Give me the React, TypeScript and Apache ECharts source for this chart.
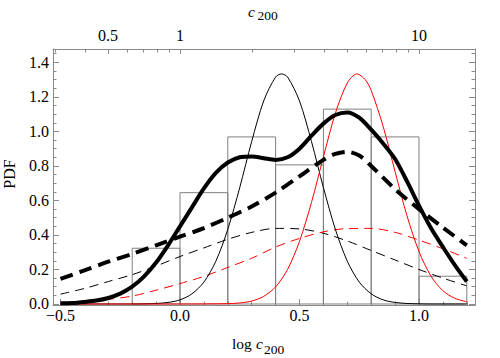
import React, { useEffect, useRef } from "react";
import * as echarts from "echarts";

// Histogram (bin edges and normalized heights)
const binStarts = [-0.2, 0.0, 0.2, 0.4, 0.6, 0.8, 1.0];
const binEnds = [0.0, 0.2, 0.4, 0.6, 0.8, 1.0, 1.2];
const binHeights = [0.323, 0.645, 0.968, 0.806, 1.129, 0.968, 0.161];

// Thin black solid
const aX = [-0.5, -0.2, -0.15, -0.1, -0.05, 0.0, 0.05, 0.1, 0.15, 0.2, 0.25, 0.3, 0.35, 0.4, 0.425, 0.45, 0.5, 0.55, 0.6, 0.65, 0.7, 0.75, 0.8, 0.85, 0.9, 0.95, 1.0, 1.05, 1.2];
const aY = [0, 0, 0.001, 0.003, 0.009, 0.024, 0.059, 0.127, 0.248, 0.433, 0.675, 0.942, 1.176, 1.315, 1.333, 1.315, 1.176, 0.942, 0.675, 0.433, 0.248, 0.127, 0.059, 0.024, 0.009, 0.003, 0.001, 0, 0];

// Thin red solid
const bX = [-0.5, 0.0, 0.2, 0.25, 0.3, 0.35, 0.4, 0.45, 0.5, 0.55, 0.6, 0.65, 0.7, 0.74, 0.775, 0.8, 0.85, 0.9, 0.95, 1.0, 1.05, 1.1, 1.15, 1.2];
const bY = [0, 0, 0.002, 0.006, 0.017, 0.044, 0.099, 0.2, 0.363, 0.588, 0.852, 1.105, 1.28, 1.333, 1.3, 1.237, 1.029, 0.766, 0.51, 0.304, 0.162, 0.077, 0.033, 0.013];

// Thick black solid
const cX = [-0.5, -0.45, -0.4, -0.35, -0.3, -0.25, -0.2, -0.15, -0.1, -0.05, 0.0, 0.05, 0.1, 0.15, 0.2, 0.25, 0.3, 0.35, 0.4, 0.45, 0.5, 0.55, 0.6, 0.65, 0.7, 0.75, 0.8, 0.85, 0.9, 0.95, 1.0, 1.05, 1.1, 1.15, 1.2];
const cY = [0.004, 0.006, 0.012, 0.02, 0.035, 0.06, 0.1, 0.16, 0.24, 0.34, 0.45, 0.56, 0.67, 0.76, 0.82, 0.85, 0.855, 0.845, 0.835, 0.85, 0.9, 0.975, 1.045, 1.095, 1.11, 1.08, 1.01, 0.93, 0.84, 0.71, 0.57, 0.44, 0.33, 0.225, 0.13];

// Thick black dashed
const dX = [-0.5, -0.4, -0.3, -0.2, -0.1, 0.0, 0.1, 0.2, 0.3, 0.4, 0.5, 0.6, 0.65, 0.7, 0.75, 0.8, 0.9, 1.0, 1.1, 1.2];
const dY = [0.145, 0.195, 0.245, 0.29, 0.34, 0.39, 0.44, 0.5, 0.565, 0.645, 0.74, 0.835, 0.87, 0.882, 0.86, 0.8, 0.665, 0.55, 0.443, 0.34];

// Thin black dashed
const eX = [-0.5, -0.4, -0.3, -0.2, -0.1, 0.0, 0.1, 0.2, 0.3, 0.4, 0.5, 0.6, 0.7, 0.8, 0.9, 1.0, 1.1, 1.2];
const eY = [0.057, 0.09, 0.13, 0.17, 0.22, 0.275, 0.325, 0.375, 0.415, 0.438, 0.435, 0.41, 0.365, 0.31, 0.255, 0.2, 0.15, 0.105];

// Thin red dashed
const fX = [-0.5, -0.4, -0.3, -0.2, -0.1, 0.0, 0.1, 0.2, 0.3, 0.4, 0.5, 0.6, 0.7, 0.8, 0.9, 1.0, 1.1, 1.2];
const fY = [0.008, 0.015, 0.027, 0.046, 0.08, 0.118, 0.16, 0.212, 0.265, 0.33, 0.38, 0.418, 0.437, 0.438, 0.415, 0.37, 0.32, 0.265];

// Ticks and tick labels
const xMajor = [-0.5, 0.0, 0.5, 1.0];
const xMajorLabels = ["\u22120.5", "0.0", "0.5", "1.0"];
const xMinor = [-0.4, -0.3, -0.2, -0.1, 0.1, 0.2, 0.3, 0.4, 0.6, 0.7, 0.8, 0.9, 1.1, 1.2];
const yMajor = [0.0, 0.2, 0.4, 0.6, 0.8, 1.0, 1.2, 1.4];
const yMajorLabels = ["0.0", "0.2", "0.4", "0.6", "0.8", "1.0", "1.2", "1.4"];
const yMinor = [0.05, 0.1, 0.15, 0.25, 0.3, 0.35, 0.45, 0.5, 0.55, 0.65, 0.7, 0.75, 0.85, 0.9, 0.95, 1.05, 1.1, 1.15, 1.25, 1.3, 1.35, 1.45];
const cMajor = [0.5, 1, 10];
const cMajorLabels = ["0.5", "1", "10"];
const cMinor = [0.3, 0.4, 0.6, 0.7, 0.8, 0.9, 2, 3, 4, 5, 6, 7, 8, 9];

const FAMILY = "Liberation Serif";
const FRAME = "#8a8a8a";
const X_MIN = -0.5314;
const X_MAX = 1.2343;
const Y_MIN = -0.0058;
const Y_MAX = 1.4774;

const pairs = (xs: number[], ys: number[]) => xs.map((x, i) => [x, ys[i]]);

export default function App() {
  const ref = useRef<HTMLDivElement>(null);
  useEffect(() => {
    if (!ref.current) return;
    const chart = echarts.init(ref.current, null, { renderer: "svg" });
    const baseX = (extra: any) => ({
      type: "value",
      min: X_MIN,
      max: X_MAX,
      splitLine: { show: false },
      axisLabel: { show: false },
      ...extra,
    });
    const baseY = (extra: any) => ({
      type: "value",
      min: Y_MIN,
      max: Y_MAX,
      splitLine: { show: false },
      axisLabel: { show: false },
      ...extra,
    });
    const line = (data: number[][], color: string, width: number, dash?: number[]) => ({
      type: "line",
      data,
      xAxisIndex: 0,
      yAxisIndex: 0,
      smooth: 0.3,
      symbol: "none",
      showSymbol: false,
      silent: true,
      lineStyle: { color, width, type: dash ? dash : "solid", cap: "butt" },
    });
    const frameLine = { show: true, onZero: false, lineStyle: { color: FRAME, width: 1 } };
    const tick = (vals: number[], length: number) => ({
      show: true,
      inside: true,
      length,
      customValues: vals,
      lineStyle: { color: FRAME },
    });
    const option: any = {
      animation: false,
      grid: { left: 53, right: 25, top: 49, bottom: 53 },
      xAxis: [
        baseX({ position: "bottom", axisLine: frameLine, axisTick: tick(xMajor, 6) }),
        baseX({ position: "bottom", axisLine: { show: false, onZero: false }, axisTick: tick(xMinor, 3.5) }),
        baseX({ position: "top", axisLine: frameLine, axisTick: tick(cMajor.map((c) => Math.log10(c)), 5) }),
        baseX({ position: "top", axisLine: { show: false, onZero: false }, axisTick: tick(cMinor.map((c) => Math.log10(c)), 3.5) }),
      ],
      yAxis: [
        baseY({ position: "left", axisLine: frameLine, axisTick: tick(yMajor, 6) }),
        baseY({ position: "left", axisLine: { show: false, onZero: false }, axisTick: tick(yMinor, 3.5) }),
        baseY({ position: "right", axisLine: frameLine, axisTick: tick(yMajor, 6) }),
        baseY({ position: "right", axisLine: { show: false, onZero: false }, axisTick: tick(yMinor, 3.5) }),
      ],
      series: [
        {
          type: "custom",
          xAxisIndex: 0,
          yAxisIndex: 0,
          silent: true,
          data: binStarts.map((s, i) => [s, binEnds[i], binHeights[i]]),
          encode: { x: [0, 1], y: 2 },
          renderItem: (params: any, api: any) => {
            const p0 = api.coord([api.value(0), api.value(2)]);
            const p1 = api.coord([api.value(1), 0]);
            return {
              type: "rect",
              shape: { x: p0[0], y: p0[1], width: p1[0] - p0[0], height: p1[1] - p0[1] },
              style: { fill: "none", stroke: "#808080", lineWidth: 1 },
            };
          },
        },
        line(pairs(eX, eY), "#000", 1, [9, 6]),
        line(pairs(fX, fY), "#ff0000", 1, [9, 6]),
        line(pairs(aX, aY), "#000", 1),
        line(pairs(bX, bY), "#ff0000", 1),
        line(pairs(dX, dY), "#000", 4, [13, 7]),
        line(pairs(cX, cY), "#000", 4),
      ],
    };
    chart.setOption(option);

    const toPx = (x: number, y: number) => chart.convertToPixel({ xAxisIndex: 0, yAxisIndex: 0 }, [x, y]) as number[];
    const txt = (text: string, x: number, y: number, align: string, extra: any = {}) => ({
      type: "text",
      x,
      y,
      silent: true,
      style: { text, fontFamily: FAMILY, fontSize: 16, fill: "#000", align, verticalAlign: "middle", ...extra },
    });
    const bottomY = toPx(0, Y_MIN)[1];
    const topY = toPx(0, Y_MAX)[1];
    const leftX = toPx(X_MIN, 0)[0];
    const graphics: any[] = [];
    xMajor.forEach((v, i) => graphics.push(txt(xMajorLabels[i], toPx(v, 0)[0], bottomY + 10, "center")));
    cMajor.forEach((c, i) => graphics.push(txt(cMajorLabels[i], toPx(Math.log10(c), 0)[0], topY - 14, "center")));
    yMajor.forEach((v, i) => graphics.push(txt(yMajorLabels[i], leftX - 4, toPx(0, v)[1], "right")));
    graphics.push({ ...txt("PDF", 9, 174, "center"), rotation: Math.PI / 2 });
    graphics.push(txt("log", 232, 343, "left", { fontSize: 15.5 }));
    graphics.push(txt("c", 256, 343, "left", { fontStyle: "italic", fontSize: 15.5 }));
    graphics.push(txt("200", 264, 349.5, "left", { fontSize: 13.5 }));
    graphics.push(txt("c", 248, 11.6, "left", { fontStyle: "italic", fontSize: 15.5 }));
    graphics.push(txt("200", 257.5, 15, "left", { fontSize: 13.5 }));
    chart.setOption({ graphic: graphics });
    return () => chart.dispose();
  }, []);
  return <div ref={ref} style={{ position: "fixed", left: 0, top: 0, width: 500, height: 358, background: "#fff" }} />;
}
